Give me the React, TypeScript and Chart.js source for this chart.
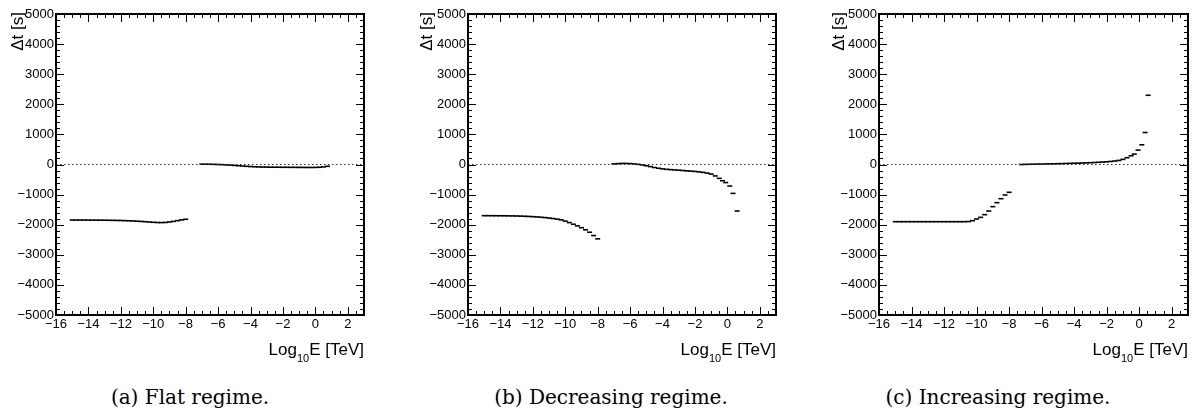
import React, { useEffect, useRef } from 'react';
import { Chart, registerables } from 'chart.js';

Chart.register(...registerables);

// ---------- axis definitions ----------
const X_MIN = -16;
const X_MAX = 3;
const Y_MIN = -5000;
const Y_MAX = 5000;
const X_TITLE_MAIN = 'Log';
const X_TITLE_SUB = '10';
const X_TITLE_REST = 'E [TeV]';
const Y_TITLE = 'Δt [s]';

// ---------- data (log10 E [TeV], Δt [s]) ----------
const lowX = [-15, -14.75, -14.5, -14.25, -14, -13.75, -13.5, -13.25, -13, -12.75, -12.5, -12.25, -12, -11.75, -11.5, -11.25, -11, -10.75, -10.5, -10.25, -10, -9.75, -9.5, -9.25, -9, -8.75, -8.5, -8.25, -8];

// (a) Flat regime
const flatLowY = [-1845, -1845, -1845, -1846, -1847, -1848, -1848, -1850, -1851, -1853, -1855, -1858, -1861, -1865, -1870, -1876, -1883, -1891, -1900, -1910, -1920, -1927, -1930, -1925, -1910, -1890, -1865, -1840, -1820];
const flatHighX = [-7, -6.75, -6.5, -6.25, -6, -5.75, -5.5, -5.25, -5, -4.75, -4.5, -4.25, -4, -3.75, -3.5, -3.25, -3, -2.75, -2.5, -2.25, -2, -1.75, -1.5, -1.25, -1, -0.75, -0.5, -0.25, 0, 0.25, 0.5, 0.75];
const flatHighY = [10, 10, 8, 5, 0, -5, -12, -20, -30, -40, -50, -60, -68, -75, -80, -84, -87, -89, -90, -91, -92, -93, -94, -95, -96, -97, -98, -98, -97, -92, -80, -60];

// (b) Decreasing regime
const decLowY = [-1700, -1700, -1701, -1702, -1703, -1704, -1706, -1708, -1711, -1715, -1720, -1726, -1733, -1742, -1752, -1764, -1778, -1795, -1815, -1840, -1880, -1930, -1985, -2040, -2100, -2170, -2250, -2360, -2470];
const decHighX = [-7, -6.75, -6.5, -6.25, -6, -5.75, -5.5, -5.25, -5, -4.75, -4.5, -4.25, -4, -3.75, -3.5, -3.25, -3, -2.75, -2.5, -2.25, -2, -1.75, -1.5, -1.25, -1, -0.75, -0.5, -0.3, -0.1, 0.15, 0.35, 0.6];
const decHighY = [20, 30, 35, 35, 30, 20, 5, -15, -40, -70, -100, -125, -145, -160, -170, -180, -190, -200, -210, -220, -230, -245, -262, -285, -316, -380, -460, -540, -600, -715, -960, -1545];

// (c) Increasing regime
const incLowY = [-1900, -1900, -1900, -1900, -1900, -1900, -1900, -1900, -1900, -1900, -1900, -1900, -1900, -1900, -1900, -1900, -1900, -1900, -1895, -1867, -1811, -1756, -1667, -1545, -1400, -1268, -1136, -1013, -924];
const incHighX = [-7.25, -7, -6.75, -6.5, -6.25, -6, -5.75, -5.5, -5.25, -5, -4.75, -4.5, -4.25, -4, -3.75, -3.5, -3.25, -3, -2.75, -2.5, -2.25, -2, -1.75, -1.5, -1.25, -1, -0.75, -0.5, -0.3, -0.07, 0.16, 0.36, 0.55];
const incHighY = [0, 4, 7, 10, 12, 14, 17, 20, 23, 26, 29, 33, 37, 41, 45, 50, 55, 60, 66, 73, 81, 90, 102, 115, 135, 170, 225, 290, 345, 478, 655, 1063, 2300];

const zeroLineX = [X_MIN, X_MAX];
const zeroLineY = [0, 0];

const captions = ['(a) Flat regime.', '(b) Decreasing regime.', '(c) Increasing regime.'];

// ---------- layout ----------
const CANVAS_H = 372;
const PLOT_TOP = 14;
const PLOT_BOTTOM = 315;

type PanelDef = {
  lowX: number[]; lowY: number[]; highX: number[]; highY: number[];
  caption: string;
  canvasLeft: number; canvasWidth: number;
  plotLeft: number; plotRight: number;
  yTitleX: number; captionX: number;
};

const panels: PanelDef[] = [
  { lowX, lowY: flatLowY, highX: flatHighX, highY: flatHighY, caption: captions[0],
    canvasLeft: 0, canvasWidth: 400, plotLeft: 56, plotRight: 364, yTitleX: 18, captionX: 190 },
  { lowX, lowY: decLowY, highX: decHighX, highY: decHighY, caption: captions[1],
    canvasLeft: 400, canvasWidth: 400, plotLeft: 468, plotRight: 776, yTitleX: 427, captionX: 611 },
  { lowX, lowY: incLowY, highX: incHighX, highY: incHighY, caption: captions[2],
    canvasLeft: 800, canvasWidth: 395, plotLeft: 879, plotRight: 1188, yTitleX: 839, captionX: 998 },
];

const SANS = '"Liberation Sans", Arial, Helvetica, sans-serif';
Chart.defaults.font.family = SANS;
Chart.defaults.font.size = 13;
Chart.defaults.color = '#000';

const toPts = (xs: number[], ys: number[]) => xs.map((x, i) => ({ x, y: ys[i] }));
const fmt = (v: number) => (v < 0 ? '\u2212' + Math.abs(v) : String(v));

const rootFramePlugin = {
  id: 'rootFrame',
  afterDatasetsDraw(chart: any) {
    const { ctx, chartArea, scales } = chart;
    const { left, right, top, bottom } = chartArea;
    const xs = scales.x;
    const ys = scales.y;
    ctx.save();
    ctx.strokeStyle = '#000';
    ctx.lineWidth = 1;
    ctx.beginPath();
    for (let i = 0; i <= (X_MAX - X_MIN) * 2; i++) {
      const v = X_MIN + i * 0.5;
      const px = Math.round(xs.getPixelForValue(v)) + 0.5;
      const major = i % 4 === 0;
      const len = major ? 8 : 4;
      ctx.moveTo(px, bottom); ctx.lineTo(px, bottom - len);
      ctx.moveTo(px, top); ctx.lineTo(px, top + len);
    }
    for (let i = 0; i <= (Y_MAX - Y_MIN) / 200; i++) {
      const v = Y_MIN + i * 200;
      const py = Math.round(ys.getPixelForValue(v)) + 0.5;
      const major = i % 5 === 0;
      const len = major ? 8 : 4;
      ctx.moveTo(left, py); ctx.lineTo(left + len, py);
      ctx.moveTo(right, py); ctx.lineTo(right - len, py);
    }
    ctx.stroke();
    ctx.lineWidth = 2;
    ctx.strokeRect(left, top, right - left, bottom - top);
    ctx.restore();
  },
};

const titlesPlugin = {
  id: 'rootTitles',
  afterDraw(chart: any, _args: any, opts: any) {
    const { ctx, chartArea } = chart;
    ctx.save();
    ctx.fillStyle = '#000';
    const big = '17px ' + SANS;
    const small = '11px ' + SANS;
    ctx.textBaseline = 'alphabetic';
    ctx.textAlign = 'left';
    ctx.font = big;
    const w1 = ctx.measureText(X_TITLE_MAIN).width;
    const w3 = ctx.measureText(X_TITLE_REST).width;
    ctx.font = small;
    const w2 = ctx.measureText(X_TITLE_SUB).width;
    const x0 = chartArea.right - (w1 + w2 + w3);
    const base = 355;
    ctx.font = big;
    ctx.fillText(X_TITLE_MAIN, x0, base);
    ctx.font = small;
    ctx.fillText(X_TITLE_SUB, x0 + w1, base + 7);
    ctx.font = big;
    ctx.fillText(X_TITLE_REST, x0 + w1 + w2, base);
    const tx = typeof opts?.yTitleX === 'number' ? opts.yTitleX : 18;
    ctx.translate(tx, 12);
    ctx.rotate(-Math.PI / 2);
    ctx.textAlign = 'right';
    ctx.textBaseline = 'middle';
    ctx.font = big;
    ctx.fillText(Y_TITLE, 0, 0);
    ctx.restore();
  },
};

function Panel({ p }: { p: PanelDef }) {
  const ref = useRef<HTMLCanvasElement>(null);
  useEffect(() => {
    if (!ref.current) return;
    const localLeft = p.plotLeft - p.canvasLeft;
    const padRight = p.canvasWidth - (p.plotRight - p.canvasLeft);
    const xAxisH = CANVAS_H - PLOT_BOTTOM;
    const pointDs = (data: any[]) => ({
      type: 'scatter' as const,
      data,
      showLine: false,
      pointStyle: 'line',
      pointRadius: 2.5,
      pointHoverRadius: 2.5,
      pointBorderWidth: 1.6,
      pointBorderColor: '#000',
      pointBackgroundColor: '#000',
      borderColor: '#000',
    });
    const chart = new Chart(ref.current, {
      type: 'scatter',
      data: {
        datasets: [
          {
            type: 'line',
            data: toPts(zeroLineX, zeroLineY),
            borderColor: '#333',
            borderWidth: 1,
            borderDash: [1.5, 2.5],
            pointRadius: 0,
            showLine: true,
            fill: false,
          } as any,
          pointDs(toPts(p.lowX, p.lowY)),
          pointDs(toPts(p.highX, p.highY)),
        ],
      },
      options: {
        animation: false,
        responsive: false,
        events: [],
        layout: { padding: { left: 0, top: PLOT_TOP, right: padRight, bottom: 0 } },
        plugins: {
          legend: { display: false },
          tooltip: { enabled: false },
          title: { display: false },
          rootTitles: { yTitleX: p.yTitleX - p.canvasLeft },
        } as any,
        scales: {
          x: {
            type: 'linear',
            min: X_MIN,
            max: X_MAX,
            grid: { display: false, drawTicks: false },
            border: { display: false },
            ticks: {
              stepSize: 2,
              includeBounds: false,
              autoSkip: false,
              maxRotation: 0,
              padding: 2,
              color: '#000',
              font: { family: SANS, size: 13 },
              callback: (v: any) => fmt(Number(v)),
            },
            afterFit: (s: any) => { s.height = xAxisH; },
          },
          y: {
            type: 'linear',
            min: Y_MIN,
            max: Y_MAX,
            grid: { display: false, drawTicks: false },
            border: { display: false },
            ticks: {
              stepSize: 1000,
              autoSkip: false,
              padding: 2,
              color: '#000',
              font: { family: SANS, size: 13 },
              callback: (v: any) => fmt(Number(v)),
            },
            afterFit: (s: any) => { s.width = localLeft; },
          },
        },
      } as any,
      plugins: [rootFramePlugin, titlesPlugin],
    });
    return () => chart.destroy();
  }, [p]);
  return (
    <canvas
      ref={ref}
      width={p.canvasWidth}
      height={CANVAS_H}
      style={{ position: 'absolute', left: p.canvasLeft, top: 0, width: p.canvasWidth, height: CANVAS_H }}
    />
  );
}

export default function App() {
  return (
    <div style={{ position: 'absolute', left: 0, top: 0, width: 1195, height: 414, background: '#fff', overflow: 'hidden' }}>
      {panels.map((p, i) => (
        <Panel key={i} p={p} />
      ))}
      {panels.map((p, i) => (
        <div
          key={'c' + i}
          style={{
            position: 'absolute',
            left: p.captionX,
            top: 386,
            transform: 'translateX(-50%)',
            whiteSpace: 'nowrap',
            fontFamily: '"DejaVu Serif", "Liberation Serif", serif',
            fontSize: 20,
            lineHeight: '22px',
            color: '#000',
          }}
        >
          {p.caption}
        </div>
      ))}
    </div>
  );
}
